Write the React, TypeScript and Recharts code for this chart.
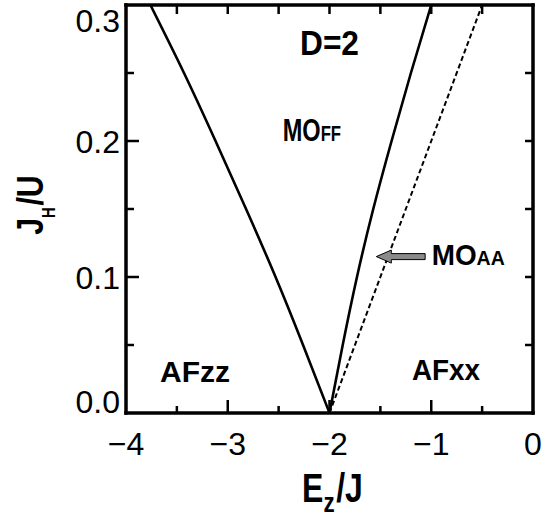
import React from 'react';
import { LineChart, Line, XAxis, YAxis, ReferenceLine, ReferenceDot, Label } from 'recharts';

// ---------- data ----------
const X_DOMAIN: [number, number] = [-4, 0];
const Y_DOMAIN: [number, number] = [0, 0.3];
const xTicks = [-4, -3.5, -3, -2.5, -2, -1.5, -1, -0.5, 0];
const yTicks = [0, 0.05, 0.1, 0.15, 0.2, 0.25, 0.3];

// phase boundaries (E_z/J as a function of J_H/U)
const boundaryY = [0, 0.05, 0.1, 0.15, 0.2, 0.25, 0.3];
const afzzMoffX = [-2.0, -2.26, -2.53, -2.82, -3.12, -3.43, -3.76];
const moffMoaaX = [-2.0, -1.87, -1.73, -1.57, -1.39, -1.2, -1.0];
const moaaAfxxY = [0, 0.3];
const moaaAfxxX = [-2.0, -0.5];

// arrow pointing into the MO_AA region
const arrowTail = { x: -1.06, y: 0.115 };
const arrowTip = { x: -1.54, y: 0.115 };

// region labels
const labelMain = ['D=2', 'MO', 'AFzz', 'AFxx', 'MO'];
const labelSmall = ['', 'FF', '', '', 'AA'];
const labelX = [-2.0, -2.46, -3.666, -1.19, -0.996];
const labelY = [0.263, 0.2, 0.023, 0.024, 0.109];

// ---------- styles ----------
const FONT = "'Liberation Sans', Arial, Helvetica, sans-serif";
const labelStyle = [
  { anchor: 'middle', size: 36, small: 0, sx: 0.88 },
  { anchor: 'start', size: 31, small: 22, sx: 0.76 },
  { anchor: 'start', size: 30, small: 0, sx: 1.0 },
  { anchor: 'start', size: 30, small: 0, sx: 0.93 },
  { anchor: 'start', size: 30, small: 21, sx: 0.93 },
];

const toPts = (xs: number[], ys: number[]) => xs.map((x, i) => ({ x, y: ys[i] }));
const leftData = toPts(afzzMoffX, boundaryY);
const rightData = toPts(moffMoaaX, boundaryY);
const dashedData = toPts(moaaAfxxX, moaaAfxxY);

const frame = { stroke: '#000', strokeWidth: 3.5, strokeLinecap: 'square' as const };
const TICK_W = 2.5;
const TICK_C = '#000';

const isMajorX = (v: number) => Math.abs(v - Math.round(v)) < 1e-6;
const isMajorY = (v: number) => Math.abs(v * 10 - Math.round(v * 10)) < 1e-6;
const fmtX = (v: number) => (v === 0 ? '0' : (v < 0 ? '\u2212' : '') + Math.abs(v));
const innerX = xTicks.filter((v) => v !== X_DOMAIN[0] && v !== X_DOMAIN[1]);
const innerY = yTicks.filter((v) => v !== Y_DOMAIN[0] && v !== Y_DOMAIN[1]);

const BottomTick = (p: any) => {
  const { x, y, payload } = p;
  const v = payload.value;
  if (!isMajorX(v)) return <g />;
  return (
    <text x={x} y={y + 42} textAnchor="middle" fontSize={32} fontFamily={FONT} fill="#000">
      {fmtX(v)}
    </text>
  );
};

const LeftTick = (p: any) => {
  const { x, y, payload } = p;
  const v = payload.value;
  if (!isMajorY(v)) return <g />;
  const shift = v === Y_DOMAIN[1] ? 15 : v === Y_DOMAIN[0] ? -12 : 0;
  return (
    <text x={x - 6} y={y + 12 + shift} textAnchor="end" fontSize={32} fontFamily={FONT} fill="#000">
      {v.toFixed(1)}
    </text>
  );
};

// inward tick marks on all four sides of the frame
const VTickMarks = (major: boolean) => (p: any) => {
  const x = p.x1;
  const yb = Math.max(p.y1, p.y2);
  const yt = Math.min(p.y1, p.y2);
  return (
    <g>
      <line x1={x} x2={x} y1={yb} y2={yb - (major ? 13 : 7)} stroke={TICK_C} strokeWidth={TICK_W} />
      <line x1={x} x2={x} y1={yt} y2={yt + 9} stroke={TICK_C} strokeWidth={TICK_W} />
    </g>
  );
};

const HTickMarks = (major: boolean) => (p: any) => {
  const y = p.y1;
  const xl = Math.min(p.x1, p.x2);
  const xr = Math.max(p.x1, p.x2);
  return (
    <g>
      <line x1={xl} x2={xl + (major ? 13 : 8)} y1={y} y2={y} stroke={TICK_C} strokeWidth={TICK_W} />
      <line x1={xr} x2={xr - 8} y1={y} y2={y} stroke={TICK_C} strokeWidth={TICK_W} />
    </g>
  );
};

const XTitle = (props: any) => {
  const vb = props.viewBox || { x: 126, y: 413, width: 407, height: 60 };
  const cx = vb.x + vb.width / 2 + 3;
  const by = vb.y + 89;
  return (
    <text transform={`translate(${cx},${by}) scale(0.8,1)`} x={0} y={0} textAnchor="middle" fontSize={40}
      fontWeight="bold" fontFamily={FONT} fill="#000">
      <tspan>E</tspan>
      <tspan dy={10} fontSize={28}>z</tspan>
      <tspan dy={-10} dx={2}>/J</tspan>
    </text>
  );
};

const YTitle = (props: any) => {
  const vb = props.viewBox || { x: 56, y: 5, width: 70, height: 408 };
  const cy = vb.y + vb.height / 2 - 4;
  const bx = vb.x - 13;
  return (
    <text transform={`translate(${bx},${cy}) rotate(-90) scale(0.82,1)`} x={0} y={0} textAnchor="middle"
      fontSize={37} fontWeight="bold" fontFamily={FONT} fill="#000">
      <tspan>J</tspan>
      <tspan dy={12} fontSize={18}>H</tspan>
      <tspan dy={-12} dx={2}>/U</tspan>
    </text>
  );
};

const Arrow = (p: any) => {
  const { x1, y1, x2, y2 } = p;
  const dx = x2 - x1;
  const dy = y2 - y1;
  const len = Math.sqrt(dx * dx + dy * dy) || 1;
  const ux = dx / len;
  const uy = dy / len;
  const nx = -uy;
  const ny = ux;
  const headLen = 15;
  const headW = 6.5;
  const shaftW = 3;
  const bx = x2 - ux * headLen;
  const by = y2 - uy * headLen;
  const pts = [
    [x1 + nx * shaftW, y1 + ny * shaftW],
    [bx + nx * shaftW, by + ny * shaftW],
    [bx + nx * headW, by + ny * headW],
    [x2, y2],
    [bx - nx * headW, by - ny * headW],
    [bx - nx * shaftW, by - ny * shaftW],
    [x1 - nx * shaftW, y1 - ny * shaftW],
  ];
  return (
    <polygon points={pts.map((q) => q.join(',')).join(' ')} fill="#8a8a8a" stroke="#000" strokeWidth={1} />
  );
};

const makeLabel = (i: number) => (p: any) => {
  const st = labelStyle[i];
  return (
    <text transform={`translate(${p.cx},${p.cy}) scale(${st.sx},1)`} x={0} y={0} textAnchor={st.anchor}
      fontSize={st.size} fontWeight="bold" fontFamily={FONT} fill="#000">
      {labelMain[i]}
      {labelSmall[i] && <tspan fontSize={st.small}>{labelSmall[i]}</tspan>}
    </text>
  );
};

export default function App() {
  return (
    <div style={{ position: 'absolute', left: 0, top: 0, background: '#fff' }}>
      <LineChart width={546} height={521} margin={{ top: 4, right: 12, bottom: 48, left: 56 }}>
        <XAxis xAxisId="b" type="number" dataKey="x" domain={X_DOMAIN} ticks={xTicks} interval={0}
          allowDataOverflow tickLine={false} tickSize={0} tickMargin={0} height={60} axisLine={frame}
          tick={(p: any) => <BottomTick {...p} />}>
          <Label content={(p: any) => <XTitle {...p} />} />
        </XAxis>
        <XAxis xAxisId="t" orientation="top" type="number" dataKey="x" domain={X_DOMAIN} ticks={xTicks}
          interval={0} allowDataOverflow tickLine={false} tick={false} height={1} axisLine={frame} />
        <YAxis yAxisId="l" type="number" dataKey="y" domain={Y_DOMAIN} ticks={yTicks} interval={0}
          allowDataOverflow tickLine={false} tickSize={0} tickMargin={0} width={70} axisLine={frame}
          tick={(p: any) => <LeftTick {...p} />}>
          <Label content={(p: any) => <YTitle {...p} />} />
        </YAxis>
        <YAxis yAxisId="r" orientation="right" type="number" dataKey="y" domain={Y_DOMAIN} ticks={yTicks}
          interval={0} allowDataOverflow tickLine={false} tick={false} width={1} axisLine={frame} />

        {innerX.map((v) => (
          <ReferenceLine key={`vx${v}`} xAxisId="b" yAxisId="l" x={v} ifOverflow="visible"
            shape={VTickMarks(isMajorX(v))} />
        ))}
        {innerY.map((v) => (
          <ReferenceLine key={`hy${v}`} xAxisId="b" yAxisId="l" y={v} ifOverflow="visible"
            shape={HTickMarks(isMajorY(v))} />
        ))}

        <Line xAxisId="b" yAxisId="l" data={leftData} dataKey="y" type="natural" stroke="#000"
          strokeWidth={2.6} dot={false} activeDot={false} isAnimationActive={false} />
        <Line xAxisId="b" yAxisId="l" data={rightData} dataKey="y" type="natural" stroke="#000"
          strokeWidth={2.6} dot={false} activeDot={false} isAnimationActive={false} />
        <Line xAxisId="t" yAxisId="r" data={dashedData} dataKey="y" type="linear" stroke="#000"
          strokeWidth={2} strokeDasharray="5 3" dot={false} activeDot={false} isAnimationActive={false} />

        <ReferenceLine xAxisId="b" yAxisId="l" segment={[arrowTail, arrowTip]} ifOverflow="visible"
          shape={(p: any) => <Arrow {...p} />} />

        {labelMain.map((_, i) => (
          <ReferenceDot key={i} xAxisId="b" yAxisId="l" x={labelX[i]} y={labelY[i]} r={0}
            ifOverflow="visible" shape={makeLabel(i)} />
        ))}
      </LineChart>
    </div>
  );
}
